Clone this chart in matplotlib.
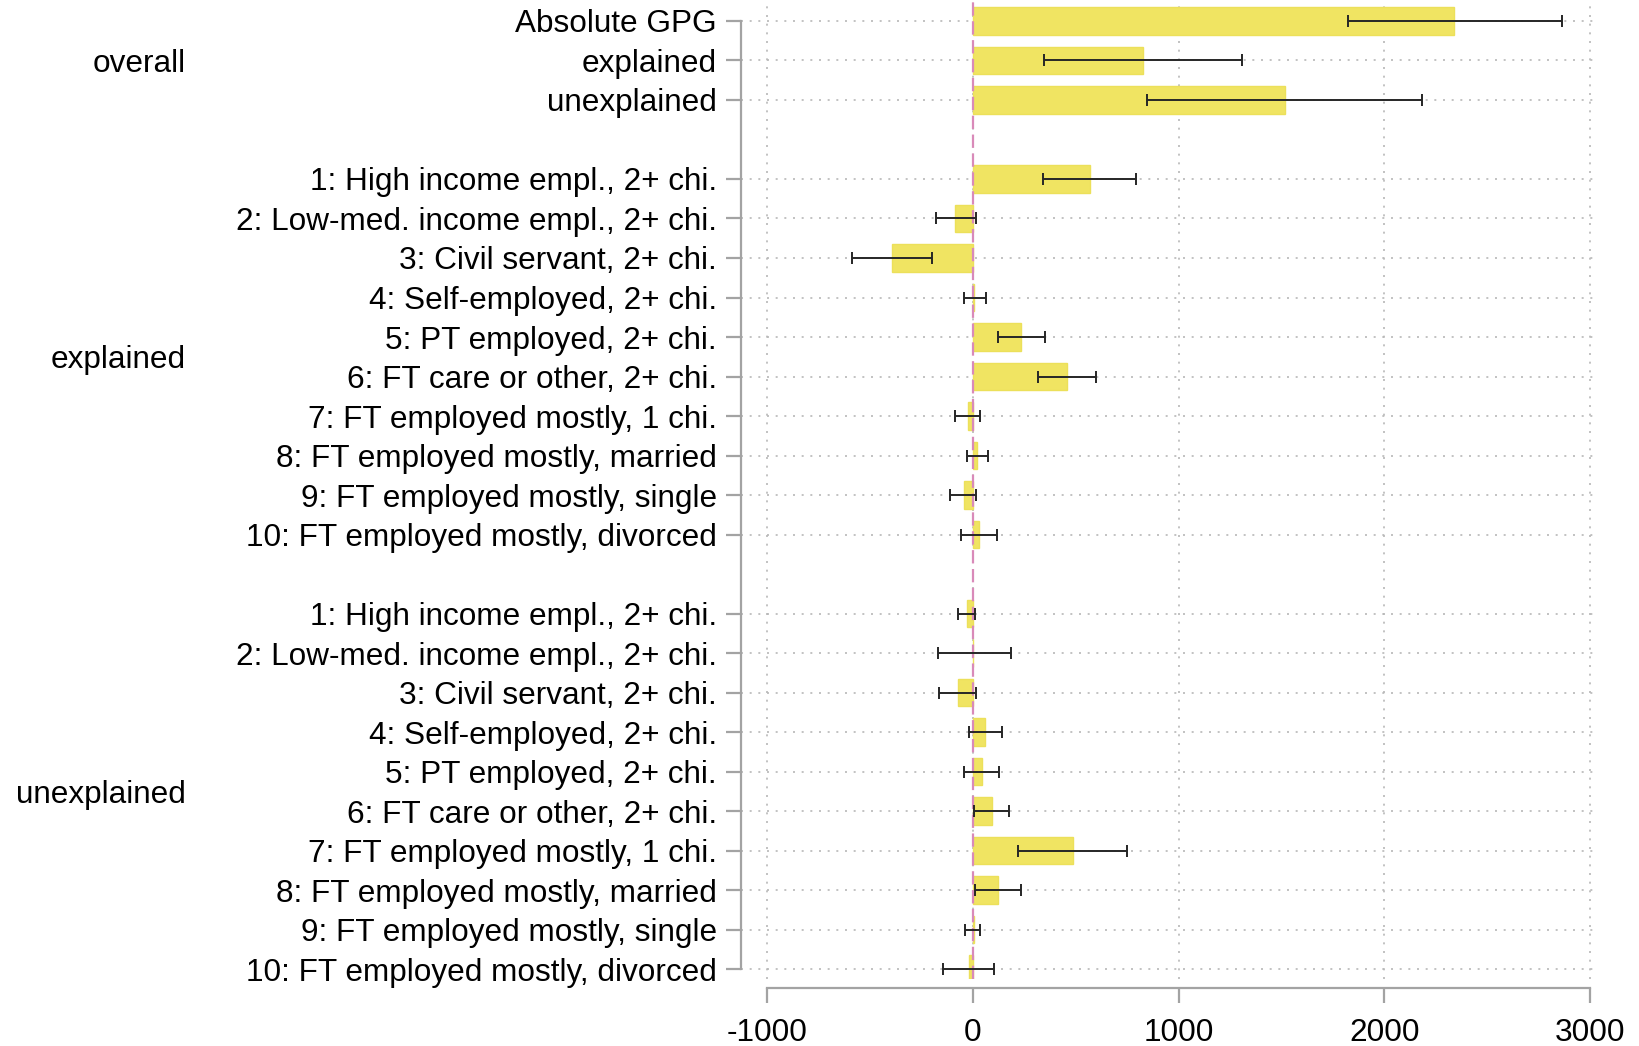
import matplotlib
matplotlib.use("Agg")
import matplotlib.pyplot as plt
import matplotlib.transforms as mtransforms
import numpy as np

plt.rcParams["font.family"] = ["Liberation Sans", "DejaVu Sans"]

# ---- data -------------------------------------------------------------
groups = ["overall", "explained", "unexplained"]

overall_labels = ["Absolute GPG", "explained", "unexplained"]
overall_vals = [2337, 826, 1515]
overall_lo = [1822, 346, 848]
overall_hi = [2860, 1308, 2180]

component_labels = [
    "1: High income empl., 2+ chi.",
    "2: Low-med. income empl., 2+ chi.",
    "3: Civil servant, 2+ chi.",
    "4: Self-employed, 2+ chi.",
    "5: PT employed, 2+ chi.",
    "6: FT care or other, 2+ chi.",
    "7: FT employed mostly, 1 chi.",
    "8: FT employed mostly, married",
    "9: FT employed mostly, single",
    "10: FT employed mostly, divorced",
]

explained_vals = [570, -84, -393, 5, 235, 456, -23, 23, -44, 32]
explained_lo = [343, -177, -584, -44, 122, 317, -84, -26, -110, -55]
explained_hi = [794, 15, -198, 64, 352, 599, 35, 73, 17, 116]

unexplained_vals = [-26, 3, -70, 61, 47, 93, 485, 122, 6, -20]
unexplained_lo = [-70, -169, -163, -17, -41, 6, 218, 12, -38, -142]
unexplained_hi = [12, 186, 17, 142, 128, 177, 749, 233, 35, 102]

x_ticks = [-1000, 0, 1000, 2000, 3000]

# ---- assemble rows (one blank row between blocks) ----------------------
labels = overall_labels + component_labels + component_labels
vals = np.array(overall_vals + explained_vals + unexplained_vals, float)
lo = np.array(overall_lo + explained_lo + unexplained_lo, float)
hi = np.array(overall_hi + explained_hi + unexplained_hi, float)

n_over = len(overall_labels)
n_comp = len(component_labels)
pos = np.concatenate([
    np.arange(n_over),
    np.arange(n_comp) + n_over + 1,
    np.arange(n_comp) + n_over + 1 + n_comp + 1,
])
group_centers = [
    pos[:n_over].mean(),
    pos[n_over:n_over + n_comp].mean(),
    pos[n_over + n_comp:].mean(),
]

# ---- styling ------------------------------------------------------------
FS = 22.7
BAR_FACE = "#f0e462"
BAR_EDGE = "#ece05a"
ZERO_COL = "#d98ab9"
AXIS_COL = "#a3a3a3"
GRID_COL = "#b8b8b8"
ERR_COL = "#262626"

fig = plt.figure(figsize=(16.39, 10.46), dpi=100)
ax = fig.add_axes([0.4521, 0.0640, 0.5235, 0.9360])

ax.set_xlim(-1125, 3042)
ax.set_ylim(pos.max() + 0.25, -0.53)

# dotted grid, drawn manually so that only category rows get a line
for y in pos:
    ax.axhline(y, color=GRID_COL, lw=1.2, ls=(0, (1.2, 4)), zorder=0)
for x in x_ticks:
    ax.axvline(x, color=GRID_COL, lw=1.2, ls=(0, (1.2, 4)), zorder=0)

ax.barh(pos, vals, height=0.7, color=BAR_FACE, edgecolor=BAR_EDGE,
        linewidth=1.0, zorder=2)

ax.axvline(0, color=ZERO_COL, lw=1.6, ls=(0, (6, 2.5)), zorder=3)

xerr = np.vstack([vals - lo, hi - vals])
ax.errorbar(vals, pos, xerr=xerr, fmt="none", ecolor=ERR_COL,
            elinewidth=1.4, capsize=4.4, capthick=1.4, zorder=4)

# axes / spines
for s in ["top", "right"]:
    ax.spines[s].set_visible(False)
ax.spines["left"].set_color(AXIS_COL)
ax.spines["left"].set_linewidth(1.6)
ax.spines["left"].set_bounds(pos.min(), pos.max())
ax.spines["bottom"].set_color(AXIS_COL)
ax.spines["bottom"].set_linewidth(1.6)
ax.spines["bottom"].set_bounds(x_ticks[0], x_ticks[-1])
ax.spines["bottom"].set_position(("outward", 6.5))

ax.set_yticks(pos)
ax.set_yticklabels(labels, fontsize=FS)
ax.set_xticks(x_ticks)
ax.set_xticklabels([str(t) for t in x_ticks], fontsize=FS)
ax.tick_params(axis="y", length=10.8, width=1.6, color=AXIS_COL, pad=6.5)
ax.tick_params(axis="x", length=10.8, width=1.6, color=AXIS_COL, pad=11)
ax.grid(False)

# block titles to the left of the category labels
trans = mtransforms.blended_transform_factory(fig.transFigure, ax.transData)
for name, yc in zip(groups, group_centers):
    ax.text(0.1135, yc, name, transform=trans, ha="right",
            va="center_baseline", fontsize=FS, clip_on=False)

fig.savefig("out.png", dpi=100, facecolor="white")
